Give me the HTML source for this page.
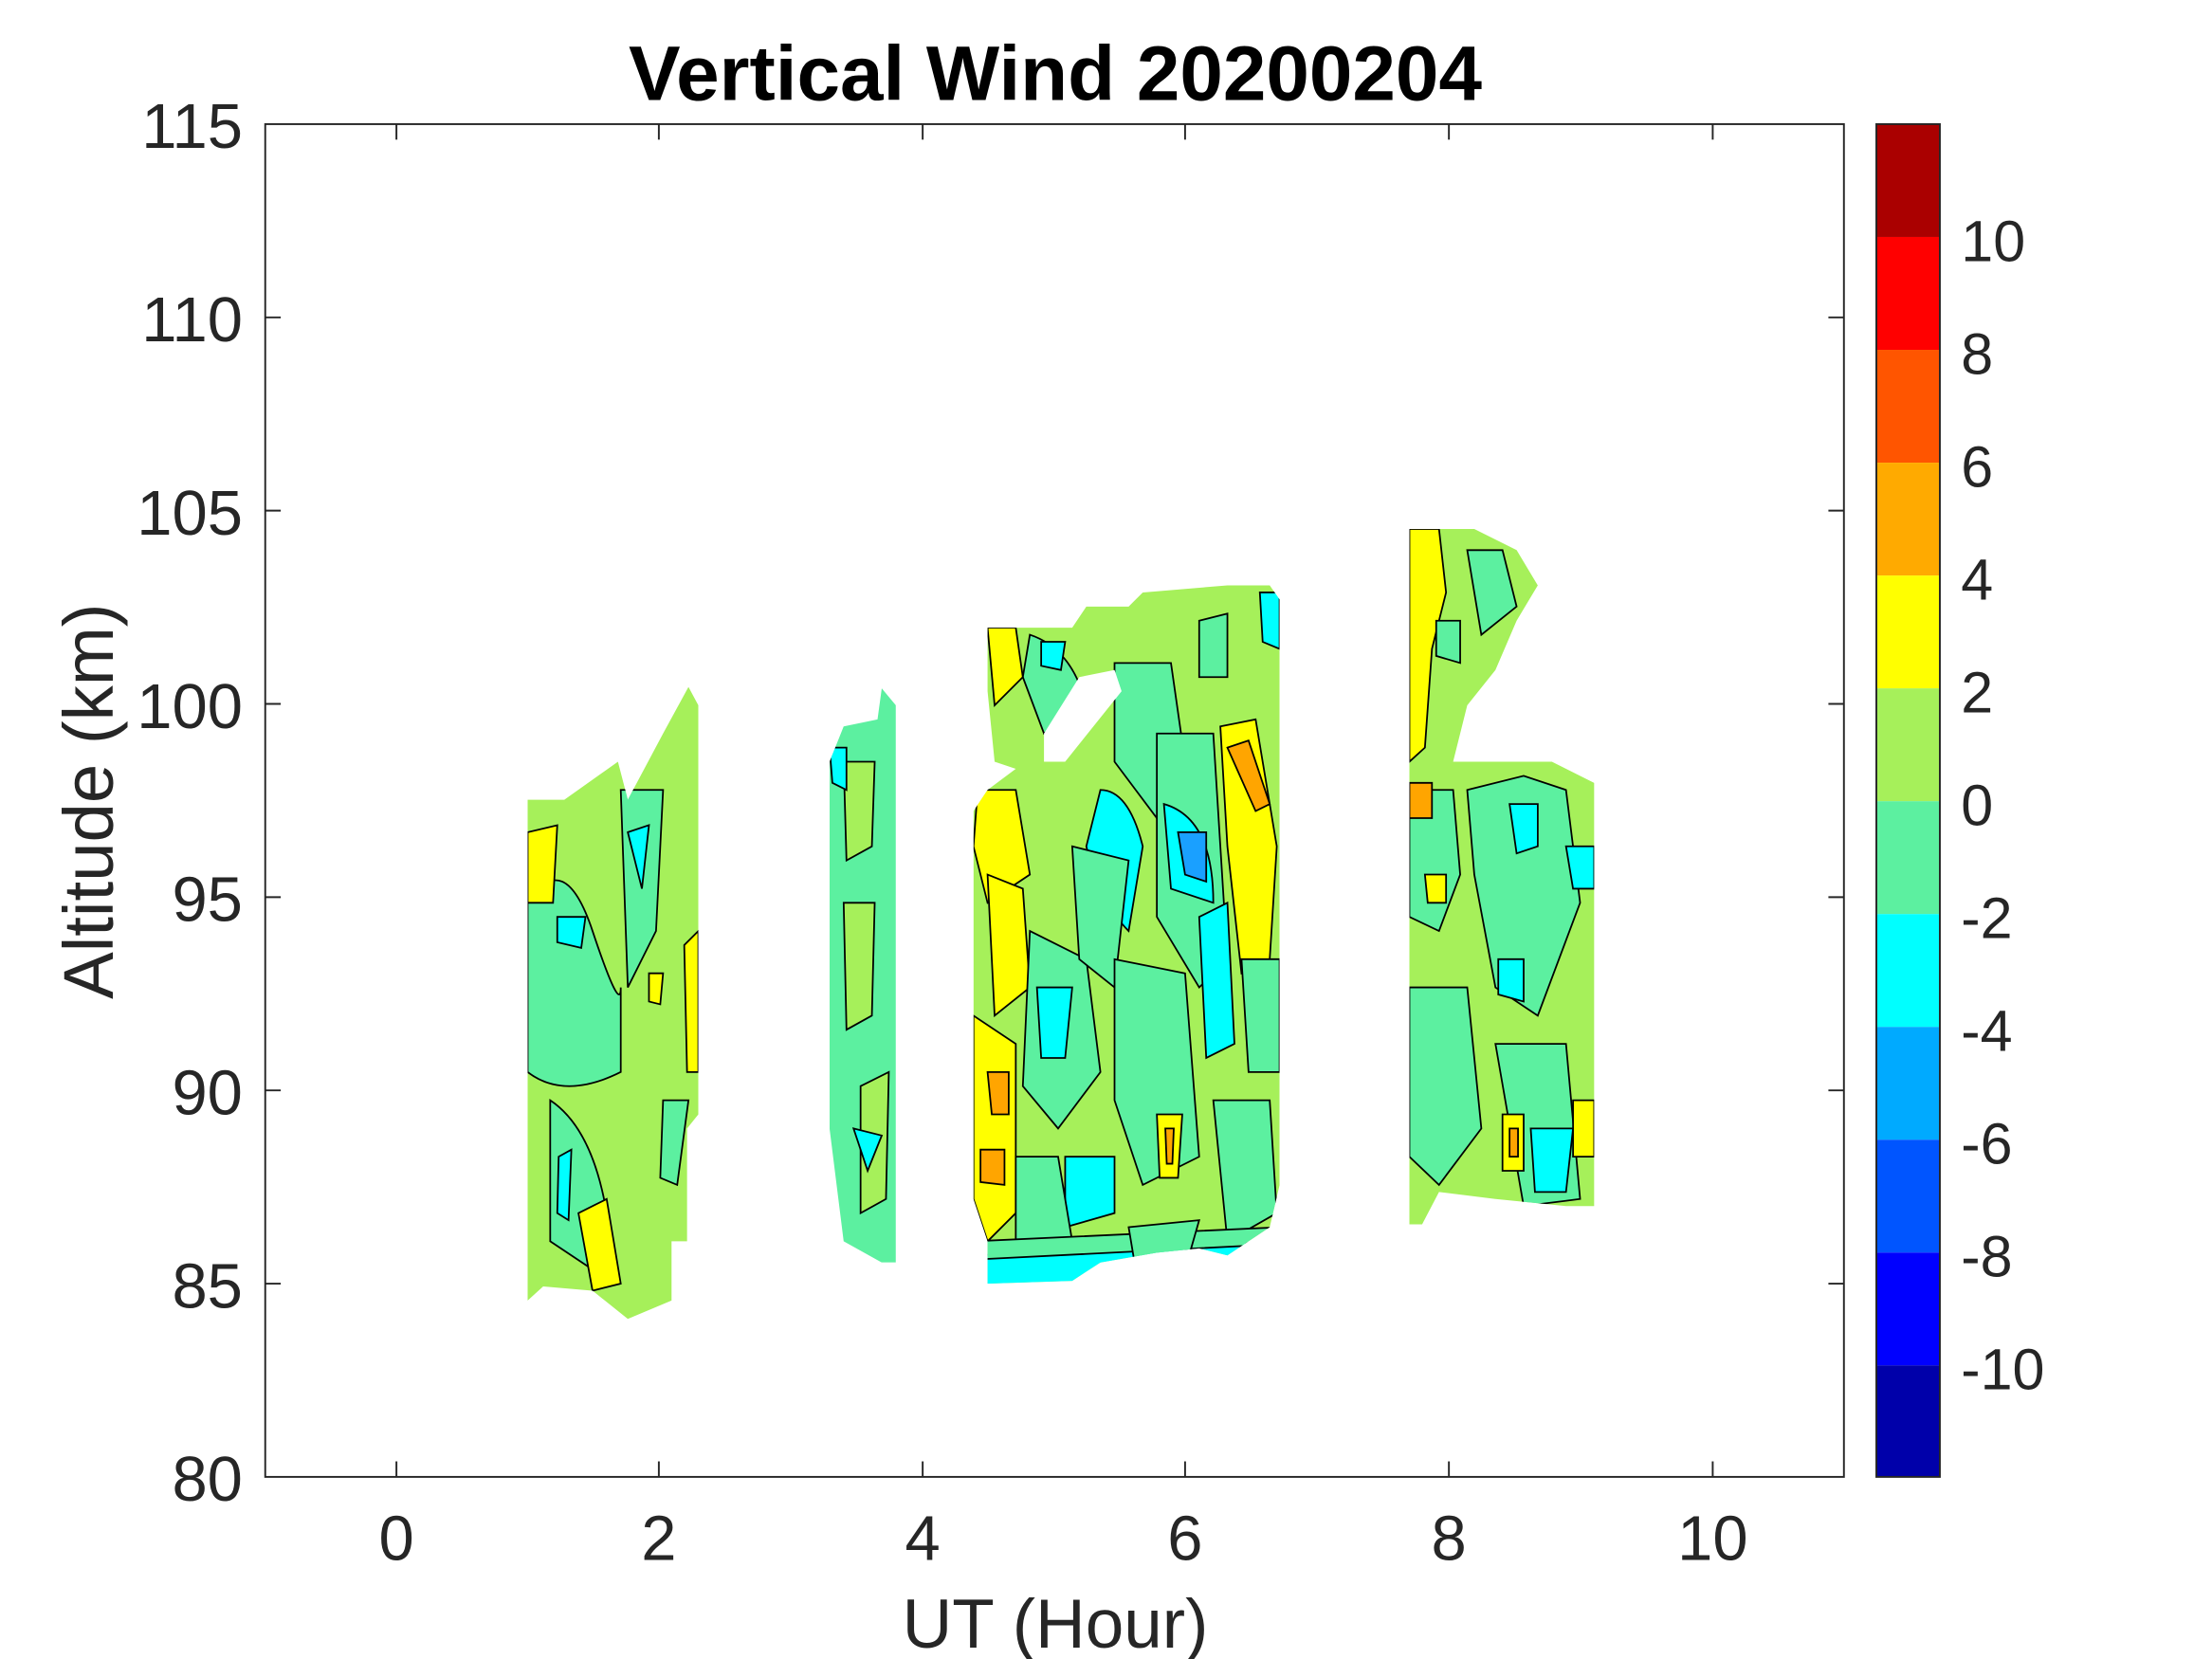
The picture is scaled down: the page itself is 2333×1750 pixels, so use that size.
<!DOCTYPE html>
<html><head><style>html,body{margin:0;padding:0;background:#fff;width:2333px;height:1750px;overflow:hidden}</style></head>
<body>
<svg width="2333" height="1750" viewBox="0 0 1567.9 1176.1" xmlns="http://www.w3.org/2000/svg" font-family="Liberation Sans, sans-serif">
<rect width="1570" height="1180" fill="#fff"/>
<defs>
<clipPath id="b1"><polygon points="374,567 400,567 438,540 445,567 470,520 488,487 495,500 495,790 487,800 487,880 476,880 476,922 445,935 420,915 385,912 374,922"/></clipPath>
<clipPath id="b2"><polygon points="588,540 598,515 622,510 625,488 635,500 635,895 625,895 598,880 588,800"/></clipPath>
<clipPath id="b3"><polygon points="700,445 760,445 770,430 800,430 810,420 870,415 900,415 907,425 907,840 900,870 870,890 850,885 820,888 780,895 760,908 700,910 700,880 690,850 690,575 700,560 720,545 705,540 700,490"/></clipPath>
<clipPath id="b4"><polygon points="999,375 1045,375 1075,390 1090,415 1075,440 1060,475 1040,500 1030,540 1100,540 1130,555 1130,855 1110,855 1060,850 1020,845 1008,868 999,868"/></clipPath>
</defs>
<g stroke="#000" stroke-width="1.2">
<g clip-path="url(#b1)">
<rect x="370" y="480" width="130" height="460" fill="#a6f05a"/>
<path d="M374,640 Q400,600 420,660 T440,700 L440,760 Q400,780 374,760 Z" fill="#5cf0a0"/>
<path d="M390,780 Q420,800 430,860 L420,900 L390,880 Z" fill="#5cf0a0"/>
<path d="M440,560 L470,560 L465,660 L445,700 Z" fill="#5cf0a0"/>
<path d="M445,590 L460,585 L455,630 Z" fill="#00ffff"/>
<path d="M395,650 L415,650 L412,672 L395,668 Z" fill="#00ffff"/>
<path d="M410,860 L430,850 L440,910 L420,915 Z" fill="#ffff00"/>
<path d="M374,590 L395,585 L392,640 L374,640 Z" fill="#ffff00"/>
<path d="M485,670 L495,660 L495,760 L487,760 Z" fill="#ffff00"/>
<path d="M460,690 L470,690 L468,712 L460,710 Z" fill="#ffff00"/>
<path d="M470,780 L488,780 L480,840 L468,835 Z" fill="#5cf0a0"/>
<path d="M396,820 L405,815 L403,865 L395,860 Z" fill="#00ffff"/>
</g>
<g clip-path="url(#b2)">
<rect x="585" y="480" width="55" height="420" fill="#5cf0a0"/>
<path d="M598,540 L620,540 L618,600 L600,610 Z" fill="#a6f05a"/>
<path d="M598,640 L620,640 L618,720 L600,730 Z" fill="#a6f05a"/>
<path d="M610,770 L630,760 L628,850 L610,860 Z" fill="#a6f05a"/>
<path d="M588,530 L600,530 L600,560 L590,555 Z" fill="#00ffff"/>
<path d="M605,800 L625,805 L615,830 Z" fill="#00ffff"/>
</g>
<g clip-path="url(#b3)">
<rect x="685" y="410" width="225" height="505" fill="#a6f05a"/>
<path d="M730,450 Q760,460 770,500 L740,520 L725,480 Z" fill="#5cf0a0"/>
<path d="M738,455 L755,455 L752,475 L738,472 Z" fill="#00ffff"/>
<path d="M780,560 Q800,560 810,600 L800,660 Q780,640 770,600 Z" fill="#00ffff"/>
<path d="M790,470 L830,470 L840,540 L820,580 L790,540 Z" fill="#5cf0a0"/>
<path d="M820,520 L860,520 L870,680 L850,700 L820,650 Z" fill="#5cf0a0"/>
<path d="M825,570 Q860,580 860,640 L830,630 Z" fill="#00ffff"/>
<path d="M835,590 L855,590 L855,625 L840,620 Z" fill="#1aa0ff"/>
<path d="M865,515 L890,510 L905,600 L900,680 L880,690 L870,600 Z" fill="#ffff00"/>
<path d="M870,530 L885,525 L900,570 L890,575 Z" fill="#ffa500"/>
<path d="M693,560 L720,560 L730,620 L700,640 L690,600 Z" fill="#ffff00"/>
<path d="M700,620 L725,630 L730,700 L705,720 Z" fill="#ffff00"/>
<path d="M690,720 L720,740 L720,860 L700,880 L690,850 Z" fill="#ffff00"/>
<path d="M700,760 L715,760 L715,790 L703,790 Z" fill="#ffa500"/>
<path d="M695,815 L712,815 L712,840 L695,838 Z" fill="#ffa500"/>
<path d="M700,445 L720,445 L725,480 L705,500 Z" fill="#ffff00"/>
<path d="M730,660 L770,680 L780,760 L750,800 L725,770 Z" fill="#5cf0a0"/>
<path d="M735,700 L760,700 L755,750 L738,750 Z" fill="#00ffff"/>
<path d="M760,600 L800,610 L790,700 L765,680 Z" fill="#5cf0a0"/>
<path d="M790,680 L840,690 L850,820 L810,840 L790,780 Z" fill="#5cf0a0"/>
<path d="M850,650 L870,640 L875,740 L855,750 Z" fill="#00ffff"/>
<path d="M880,680 L907,680 L907,760 L885,760 Z" fill="#5cf0a0"/>
<path d="M755,820 L790,820 L790,860 L755,870 Z" fill="#00ffff"/>
<path d="M820,790 L838,790 L835,835 L822,835 Z" fill="#ffff00"/>
<path d="M826,800 L832,800 L831,825 L827,825 Z" fill="#ffa500"/>
<path d="M720,820 L750,820 L760,880 L720,900 Z" fill="#5cf0a0"/>
<path d="M860,780 L900,780 L905,860 L870,880 Z" fill="#5cf0a0"/>
<path d="M893,420 L907,420 L907,460 L895,455 Z" fill="#00ffff"/>
<path d="M690,890 L907,880 L907,920 L690,920 Z" fill="#00ffff"/>
<path d="M690,880 L907,870 L907,882 L690,893 Z" fill="#5cf0a0"/>
<path d="M800,870 L850,865 L840,900 L805,900 Z" fill="#5cf0a0"/>
<path d="M850,440 L870,435 L870,480 L850,480 Z" fill="#5cf0a0"/>
</g>
<polygon points="740,520 765,480 790,475 795,490 755,540 740,540" fill="#fff" stroke="none"/>
<g clip-path="url(#b4)">
<rect x="995" y="370" width="140" height="505" fill="#a6f05a"/>
<path d="M999,375 L1020,375 L1025,420 L1015,460 L1010,530 L999,540 Z" fill="#ffff00"/>
<path d="M1040,390 L1065,390 L1075,430 L1050,450 Z" fill="#5cf0a0"/>
<path d="M1018,440 L1035,440 L1035,470 L1018,465 Z" fill="#5cf0a0"/>
<path d="M1040,560 L1080,550 L1110,560 L1120,640 L1090,720 L1060,700 L1045,620 Z" fill="#5cf0a0"/>
<path d="M1070,570 L1090,570 L1090,600 L1075,605 Z" fill="#00ffff"/>
<path d="M1062,680 L1080,680 L1080,710 L1062,705 Z" fill="#00ffff"/>
<path d="M1110,600 L1130,600 L1130,630 L1115,630 Z" fill="#00ffff"/>
<path d="M999,560 L1030,560 L1035,620 L1020,660 L999,650 Z" fill="#5cf0a0"/>
<path d="M1010,620 L1025,620 L1025,640 L1012,640 Z" fill="#ffff00"/>
<path d="M999,700 L1040,700 L1050,800 L1020,840 L999,820 Z" fill="#5cf0a0"/>
<path d="M1060,740 L1110,740 L1120,850 L1080,855 Z" fill="#5cf0a0"/>
<path d="M1085,800 L1115,800 L1110,845 L1088,845 Z" fill="#00ffff"/>
<path d="M1065,790 L1080,790 L1080,830 L1065,830 Z" fill="#ffff00"/>
<path d="M1070,800 L1076,800 L1076,820 L1070,820 Z" fill="#ffa500"/>
<path d="M1115,780 L1130,780 L1130,820 L1115,820 Z" fill="#ffff00"/>
<path d="M999,555 L1015,555 L1015,580 L999,580 Z" fill="#ffa500"/>
</g>
</g>
<rect x="188" y="88" width="1119" height="959" fill="none" stroke="#262626" stroke-width="1.3"/>
<g stroke="#262626" stroke-width="1.3">
<line x1="281" y1="1047" x2="281" y2="1036"/><line x1="467" y1="1047" x2="467" y2="1036"/><line x1="654" y1="1047" x2="654" y2="1036"/><line x1="840" y1="1047" x2="840" y2="1036"/><line x1="1027" y1="1047" x2="1027" y2="1036"/><line x1="1214" y1="1047" x2="1214" y2="1036"/>
<line x1="281" y1="88" x2="281" y2="99"/><line x1="467" y1="88" x2="467" y2="99"/><line x1="654" y1="88" x2="654" y2="99"/><line x1="840" y1="88" x2="840" y2="99"/><line x1="1027" y1="88" x2="1027" y2="99"/><line x1="1214" y1="88" x2="1214" y2="99"/>
<line x1="188" y1="225" x2="199" y2="225"/><line x1="188" y1="362" x2="199" y2="362"/><line x1="188" y1="499" x2="199" y2="499"/><line x1="188" y1="636" x2="199" y2="636"/><line x1="188" y1="773" x2="199" y2="773"/><line x1="188" y1="910" x2="199" y2="910"/>
<line x1="1307" y1="225" x2="1296" y2="225"/><line x1="1307" y1="362" x2="1296" y2="362"/><line x1="1307" y1="499" x2="1296" y2="499"/><line x1="1307" y1="636" x2="1296" y2="636"/><line x1="1307" y1="773" x2="1296" y2="773"/><line x1="1307" y1="910" x2="1296" y2="910"/>
</g>
<g font-size="45" fill="#262626" text-anchor="middle">
<text x="281" y="1106">0</text><text x="467" y="1106">2</text><text x="654" y="1106">4</text><text x="840" y="1106">6</text><text x="1027" y="1106">8</text><text x="1214" y="1106">10</text>
</g>
<g font-size="45" fill="#262626" text-anchor="end">
<text x="172" y="105">115</text><text x="172" y="242">110</text><text x="172" y="379">105</text><text x="172" y="516">100</text><text x="172" y="653">95</text><text x="172" y="790">90</text><text x="172" y="927">85</text><text x="172" y="1064">80</text>
</g>
<text x="748" y="1168" font-size="49" fill="#262626" text-anchor="middle">UT (Hour)</text>
<text transform="translate(80,568) rotate(-90)" font-size="50" fill="#262626" text-anchor="middle">Altitude (km)</text>
<text x="748" y="71" font-size="55" font-weight="bold" fill="#000" text-anchor="middle">Vertical Wind 20200204</text>
<g>
<rect x="1330" y="88" width="45" height="80" fill="#aa0000"/>
<rect x="1330" y="168" width="45" height="80" fill="#ff0000"/>
<rect x="1330" y="248" width="45" height="80" fill="#ff5500"/>
<rect x="1330" y="328" width="45" height="80" fill="#ffaa00"/>
<rect x="1330" y="408" width="45" height="80" fill="#ffff00"/>
<rect x="1330" y="488" width="45" height="80" fill="#a6f05a"/>
<rect x="1330" y="568" width="45" height="80" fill="#5cf0a0"/>
<rect x="1330" y="648" width="45" height="80" fill="#00ffff"/>
<rect x="1330" y="728" width="45" height="80" fill="#00aaff"/>
<rect x="1330" y="808" width="45" height="80" fill="#0055ff"/>
<rect x="1330" y="888" width="45" height="80" fill="#0000ff"/>
<rect x="1330" y="968" width="45" height="79" fill="#0000aa"/>
<rect x="1330" y="88" width="45" height="959" fill="none" stroke="#262626" stroke-width="1.3"/>
</g>
<g font-size="41" fill="#262626">
<text x="1390" y="185">10</text><text x="1390" y="265">8</text><text x="1390" y="345">6</text><text x="1390" y="425">4</text><text x="1390" y="505">2</text><text x="1390" y="585">0</text><text x="1390" y="665">-2</text><text x="1390" y="745">-4</text><text x="1390" y="825">-6</text><text x="1390" y="905">-8</text><text x="1390" y="985">-10</text>
</g>
</svg>
</body></html>
